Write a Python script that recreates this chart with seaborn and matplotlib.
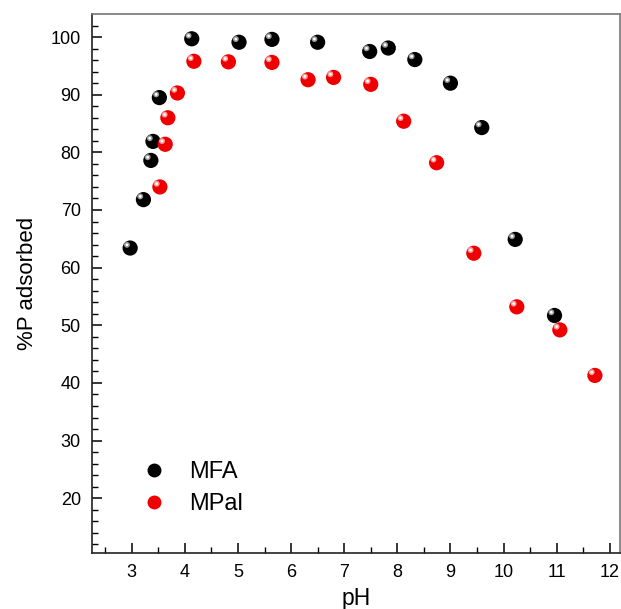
import matplotlib
matplotlib.use("Agg")
import matplotlib.pyplot as plt
import matplotlib.transforms as mtransforms
from matplotlib.lines import Line2D
import seaborn as sns
import pandas as pd

# ---- data ----
mfa_ph = [2.97, 3.22, 3.36, 3.40, 3.52, 4.13, 5.02, 5.64, 6.50, 7.48, 7.83, 8.33, 9.00, 9.59, 10.22, 10.96]
mfa_p = [63.4, 71.8, 78.6, 81.9, 89.5, 99.7, 99.1, 99.6, 99.1, 97.5, 98.1, 96.1, 92.0, 84.3, 64.9, 51.7]
mpal_ph = [3.53, 3.63, 3.68, 3.86, 4.17, 4.82, 5.64, 6.32, 6.80, 7.50, 8.12, 8.74, 9.44, 10.25, 11.06, 11.72]
mpal_p = [74.0, 81.4, 86.0, 90.3, 95.8, 95.7, 95.6, 92.6, 93.0, 91.8, 85.4, 78.2, 62.5, 53.2, 49.2, 41.3]
series_names = ["MFA", "MPal"]
x_ticks = [3, 4, 5, 6, 7, 8, 9, 10, 11, 12]
y_ticks = [20, 30, 40, 50, 60, 70, 80, 90, 100]

df = pd.concat([
    pd.DataFrame({"pH": mfa_ph, "P": mfa_p, "series": series_names[0]}),
    pd.DataFrame({"pH": mpal_ph, "P": mpal_p, "series": series_names[1]}),
], ignore_index=True)

sns.set_theme(style="ticks")
plt.rcParams["font.family"] = ["Liberation Sans", "DejaVu Sans"]
plt.rcParams["text.color"] = "black"
plt.rcParams["axes.labelcolor"] = "black"
plt.rcParams["xtick.color"] = "black"
plt.rcParams["ytick.color"] = "black"

fig = plt.figure(figsize=(6.21, 6.09), dpi=100)
ax = fig.add_axes([0.148, 0.092, 0.851, 0.885])

base_colors = {"MFA": "#000000", "MPal": "#ee0000"}
hi_colors = {"MFA": "#9a9a9a", "MPal": "#ff9a9a"}

sns.scatterplot(data=df, x="pH", y="P", hue="series", palette=base_colors,
                s=120, edgecolor="none", ax=ax, legend=False, zorder=3)

# specular highlight on each sphere
offset = mtransforms.ScaledTranslation(-2.3 / 72, 2.3 / 72, fig.dpi_scale_trans)
for name in series_names:
    sub = df[df["series"] == name]
    ax.scatter(sub["pH"], sub["P"], s=18, color=hi_colors[name], edgecolor="none",
               transform=ax.transData + offset, zorder=4)
    ax.scatter(sub["pH"], sub["P"], s=4, color="white", edgecolor="none",
               transform=ax.transData + offset, zorder=5)

# legend
handles = [Line2D([], [], marker="o", linestyle="none", markersize=10,
                  markerfacecolor=base_colors[n], markeredgecolor="none") for n in series_names]
leg = ax.legend(handles, series_names, loc="upper left", bbox_to_anchor=(0.055, 0.21),
                frameon=False, fontsize=17, handletextpad=1.0, labelspacing=0.42,
                handlelength=1.0)

ax.set_xlim(2.25, 12.2)
ax.set_ylim(10.5, 104)
ax.set_xticks(x_ticks)
ax.set_yticks(y_ticks)
ax.set_xticks([x + 0.5 for x in range(2, 12)], minor=True)
ax.set_yticks(list(range(12, 104, 2)), minor=True)
ax.tick_params(axis="both", which="major", direction="in", length=7, width=1.1,
               labelsize=13, pad=8, top=False, right=False)
ax.tick_params(axis="both", which="minor", direction="in", length=4, width=1.0,
               top=False, right=False)
ax.set_xlabel("pH", fontsize=16.5, labelpad=4)
ax.set_ylabel("%P adsorbed", fontsize=16, labelpad=9)

for side in ["left", "bottom"]:
    ax.spines[side].set_color("#222222")
    ax.spines[side].set_linewidth(1.2)
for side in ["top", "right"]:
    ax.spines[side].set_color("#777777")
    ax.spines[side].set_linewidth(1.2)
    ax.spines[side].set_visible(True)

fig.savefig("out.png", dpi=100)
